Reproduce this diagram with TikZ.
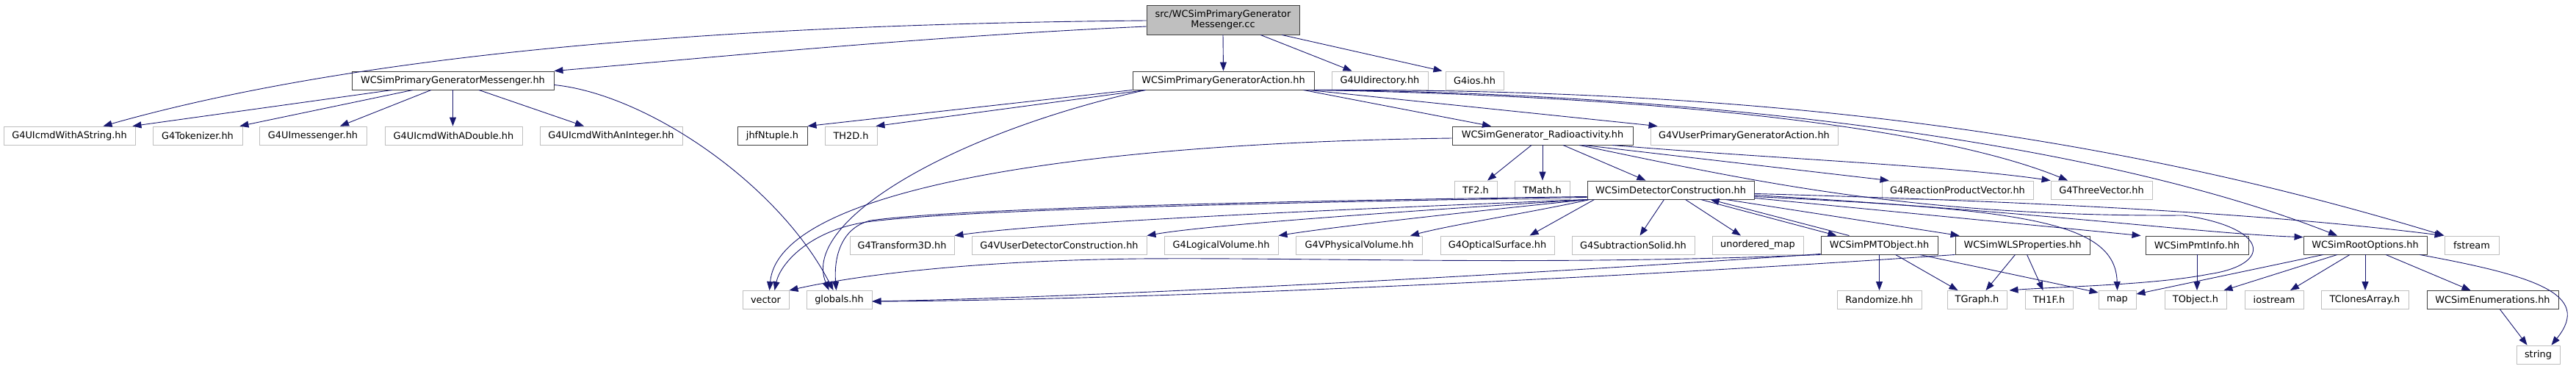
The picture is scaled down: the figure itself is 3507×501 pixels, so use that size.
\documentclass[tikz,border=0pt]{standalone}
\usepackage{fontspec}
\setmainfont{DejaVu Sans}
\usetikzlibrary{arrows.meta,calc}
\definecolor{edgec}{HTML}{191970}
\definecolor{lgray}{HTML}{BFBFBF}
\definecolor{dgray}{HTML}{404040}
\tikzset{
 box/.style={rectangle, inner sep=0pt, minimum height=25pt, font=\fontsize{12.9}{14.5}\selectfont, line width=0.9pt},
 gbox/.style={box, draw=lgray, fill=white},
 dbox/.style={box, draw=dgray, fill=white},
 rootbox/.style={box, draw=dgray, fill=lgray, minimum height=40pt, align=center},
 edge/.style={draw=edgec, line width=0.9pt, -{Triangle[length=12pt,width=9pt]}},
}
\begin{document}
\begin{tikzpicture}[x=1pt,y=-1pt]
\path[use as bounding box] (0,0) rectangle (3507,501);
% row 0
\node[rootbox, minimum width=208pt] (root) at (1665,27) {src/WCSimPrimaryGenerator\\Messenger.cc};
% row 1
\node[dbox, minimum width=275pt] (msgr) at (616.5,109.5) {WCSimPrimaryGeneratorMessenger.hh};
\node[dbox, minimum width=247pt] (action) at (1665.5,109.5) {WCSimPrimaryGeneratorAction.hh};
\node[gbox, minimum width=131pt] (uidir) at (1878.5,109.5) {G4UIdirectory.hh};
\node[gbox, minimum width=79pt] (ios) at (2007.5,109.5) {G4ios.hh};
% row 2
\node[gbox, minimum width=179pt] (astring) at (94.5,184.5) {G4UIcmdWithAString.hh};
\node[gbox, minimum width=122pt] (tokenizer) at (269,184.5) {G4Tokenizer.hh};
\node[gbox, minimum width=146pt] (uimsg) at (426,184.5) {G4UImessenger.hh};
\node[gbox, minimum width=187pt] (udouble) at (617.5,184.5) {G4UIcmdWithADouble.hh};
\node[gbox, minimum width=194pt] (uint) at (832,184.5) {G4UIcmdWithAnInteger.hh};
\node[dbox, minimum width=95pt] (jhf) at (1051.5,184.5) {jhfNtuple.h};
\node[gbox, minimum width=71pt] (th2d) at (1158.5,184.5) {TH2D.h};
\node[dbox, minimum width=246pt] (radio) at (2100,184.5) {WCSimGenerator\_Radioactivity.hh};
\node[gbox, minimum width=255pt] (upga) at (2374.5,184.5) {G4VUserPrimaryGeneratorAction.hh};
% row 3
\node[gbox, minimum width=58pt] (tf2) at (2009,258.5) {TF2.h};
\node[gbox, minimum width=75pt] (tmath) at (2099.5,258.5) {TMath.h};
\node[dbox, minimum width=227pt] (det) at (2274.5,258.5) {WCSimDetectorConstruction.hh};
\node[gbox, minimum width=206pt] (rpv) at (2665,258.5) {G4ReactionProductVector.hh};
\node[gbox, minimum width=138pt] (three) at (2861,258.5) {G4ThreeVector.hh};
% row 4
\node[gbox, minimum width=142pt] (tr3d) at (1228,333.5) {G4Transform3D.hh};
\node[gbox, minimum width=238pt] (udc) at (1442,333.5) {G4VUserDetectorConstruction.hh};
\node[gbox, minimum width=155pt] (logv) at (1662.5,333.5) {G4LogicalVolume.hh};
\node[gbox, minimum width=172pt] (physv) at (1850.5,333.5) {G4VPhysicalVolume.hh};
\node[gbox, minimum width=155pt] (optsurf) at (2038.5,333.5) {G4OpticalSurface.hh};
\node[gbox, minimum width=167pt] (subsol) at (2223.5,333.5) {G4SubtractionSolid.hh};
\node[gbox, minimum width=124pt] (umap) at (2393,333.5) {unordered\_map};
\node[dbox, minimum width=159pt] (pmt) at (2558.5,333.5) {WCSimPMTObject.hh};
\node[dbox, minimum width=183pt] (wls) at (2753.5,333.5) {WCSimWLSProperties.hh};
\node[dbox, minimum width=140pt] (pmtinfo) at (2991,333.5) {WCSimPmtInfo.hh};
\node[dbox, minimum width=168pt] (rootopt) at (3220,333.5) {WCSimRootOptions.hh};
\node[gbox, minimum width=74pt] (fstream) at (3365,333.5) {fstream};
% row 5
\node[gbox, minimum width=63pt] (vector) at (1042.5,408) {vector};
\node[gbox, minimum width=89pt] (globals) at (1142.5,408) {globals.hh};
\node[gbox, minimum width=115pt] (random) at (2558.5,408) {Randomize.hh};
\node[gbox, minimum width=81pt] (tgraph) at (2691.5,408) {TGraph.h};
\node[gbox, minimum width=65pt] (th1f) at (2789.5,408) {TH1F.h};
\node[gbox, minimum width=51pt] (map) at (2882.5,408) {map};
\node[gbox, minimum width=84pt] (tobject) at (2989,408) {TObject.h};
\node[gbox, minimum width=80pt] (iostream) at (3096,408) {iostream};
\node[gbox, minimum width=119pt] (tclones) at (3219.5,408) {TClonesArray.h};
\node[dbox, minimum width=179pt] (enums) at (3393.5,408) {WCSimEnumerations.hh};
% row 6
\node[gbox, minimum width=59pt] (string) at (3455.5,482.5) {string};

% ---- edges from root
\draw[edge] ([yshift=-9pt]root.west) .. controls (1250,50) and (950,80) .. (msgr.north east);
\draw[edge] ([yshift=-1pt]root.west) .. controls (1000,33) and (500,70) .. ([xshift=46pt]astring.north);
\draw[edge] (root.south) -- (action.north);
\draw[edge] ([xshift=51pt]root.south) -- ([xshift=-38pt]uidir.north);
\draw[edge] ([xshift=80pt]root.south) -- ([xshift=-44pt]ios.north);
% ---- messenger.hh
\draw[edge] ([xshift=-82.5pt]msgr.south) -- ([xshift=-4pt]astring.north east);
\draw[edge] ([xshift=-54.5pt]msgr.south) -- ([xshift=-4pt]tokenizer.north east);
\draw[edge] ([xshift=-29.5pt]msgr.south) -- ([xshift=37pt]uimsg.north);
\draw[edge] (msgr.south) -- (msgr.south |- udouble.north);
\draw[edge] ([xshift=35.5pt]msgr.south) -- ([xshift=-37pt]uint.north);
\draw[edge] ([yshift=-6pt]msgr.east) .. controls (880,128) and (1060,250) .. ([xshift=-8pt]globals.north);
% ---- action.hh
\draw[edge] (action.south west) -- (jhf.north east);
\draw[edge] ([xshift=18pt]action.south west) -- ([xshift=-2pt]th2d.north east);
\draw[edge] ([xshift=18pt]action.south west) .. controls (1300,180) and (1090,300) .. ([xshift=-14pt]globals.north);
\draw[edge] ([xshift=-15pt]action.south east) -- ([xshift=-70pt]radio.north);
\draw[edge] ([xshift=-8pt]action.south east) -- ([xshift=10pt]upga.north west);
\draw[edge] (action.south east) .. controls (2300,132) and (2650,178) .. ([xshift=-46pt]three.north);
\draw[edge] (action.south east) .. controls (2300,126) and (2850,190) .. ([xshift=-38pt]rootopt.north);
\draw[edge] (action.south east) .. controls (2300,121) and (2800,160) .. (fstream.north west);
% ---- radioactivity
\draw[edge] ([xshift=-15pt]radio.south) -- ([xshift=16pt]tf2.north);
\draw[edge] (radio.south) -- (radio.south |- tmath.north);
\draw[edge] ([xshift=28pt]radio.south) -- ([xshift=-34pt]det.north);
\draw[edge] ([xshift=56pt]radio.south) -- ([xshift=10pt]rpv.north west);
\draw[edge] ([xshift=95pt]radio.south) .. controls (2400,215) and (2650,225) .. (three.north west);
\draw[edge] ([xshift=50pt]radio.south) .. controls (2380,245) and (2600,295) .. (2973,293)
  .. controls (3090,310) and (3095,360) .. (3007,373)
  .. controls (2930,388) and (2800,390) .. ([xshift=3pt]tgraph.north east);
\draw[edge] ([yshift=-3.5pt]radio.west) .. controls (1450,195) and (1060,260) .. ([xshift=5pt]vector.north);
% ---- detector construction
\draw[edge] (det.south west) .. controls (1900,282) and (1450,300) .. (tr3d.north east);
\draw[edge] ([xshift=1pt]det.south west) .. controls (1950,285) and (1650,305) .. (udc.north east);
\draw[edge] ([xshift=2pt]det.south west) .. controls (2000,288) and (1820,308) .. (logv.north east);
\draw[edge] ([xshift=4pt]det.south west) .. controls (2080,290) and (1980,305) .. ([xshift=-17pt]physv.north east);
\draw[edge] ([xshift=10pt]det.south west) -- ([xshift=44pt]optsurf.north);
\draw[edge] ([xshift=-9pt]det.south) -- ([xshift=9pt]subsol.north);
\draw[edge] ([xshift=20pt]det.south) -- ([xshift=-23pt]umap.north);
\draw[edge] ([xshift=41pt]det.south) -- ([xshift=-58pt]pmt.north);
\draw[edge] ([xshift=-41pt]pmt.north) -- ([xshift=54pt]det.south);
\draw[edge] ([xshift=75pt]det.south) -- ([xshift=6pt]wls.north west);
\draw[edge] ([yshift=2pt]det.south east) -- ([xshift=-6pt]pmtinfo.north west);
\draw[edge] ([yshift=4pt]det.south east) .. controls (2750,285) and (2880,300) .. (map.north);
\draw[edge] ([yshift=6pt]det.south east) .. controls (2800,290) and (3000,318) .. ([yshift=-2pt]rootopt.north west);
\draw[edge] ([yshift=8pt]det.south east) .. controls (2800,275) and (3100,292) .. ([xshift=-1pt]fstream.north west);
\draw[edge] ([yshift=3pt]det.south west) .. controls (1700,276) and (1300,286) .. (1180,302)
  .. controls (1100,314) and (1062,360) .. ([xshift=12pt]vector.north);
\draw[edge] ([yshift=4pt]det.south west) .. controls (1700,274) and (1300,284) .. (1185,300)
  .. controls (1145,310) and (1135,350) .. ([xshift=-4pt]globals.north);
% ---- PMT object
\draw[edge] (pmt.south) -- (random.north);
\draw[edge] ([xshift=22pt]pmt.south) -- ([xshift=-26pt]tgraph.north);
\draw[edge] ([xshift=55pt]pmt.south) -- ([yshift=-3pt]map.north west);
\draw[edge] (pmt.south west) .. controls (2100,362) and (1800,350) .. (1550,352)
  .. controls (1300,355) and (1150,378) .. (vector.north east);
\draw[edge] ([yshift=1pt]pmt.south west) .. controls (2100,372) and (1500,404) .. ([yshift=-2pt]globals.east);
% ---- WLS
\draw[edge] (wls.south west) .. controls (2300,372) and (1600,408) .. ([yshift=-2pt]globals.east);
\draw[edge] ([xshift=-10pt]wls.south) -- ([xshift=12pt]tgraph.north);
\draw[edge] ([xshift=6pt]wls.south) -- ([xshift=-8pt]th1f.north);
% ---- PmtInfo
\draw[edge] (pmtinfo.south) -- (pmtinfo.south |- tobject.north);
% ---- RootOptions
\draw[edge] ([xshift=-57pt]rootopt.south) -- ([yshift=-5pt]map.north east);
\draw[edge] ([xshift=-38pt]rootopt.south) -- ([xshift=-4pt]tobject.north east);
\draw[edge] ([xshift=-21pt]rootopt.south) -- ([xshift=22pt]iostream.north);
\draw[edge] (rootopt.south) -- (rootopt.south |- tclones.north);
\draw[edge] ([xshift=28pt]rootopt.south) -- ([xshift=-30pt]enums.north);
\draw[edge] ([xshift=74pt]rootopt.south) .. controls (3450,375) and (3530,400) .. ([xshift=18pt]string.north);
% ---- Enumerations
\draw[edge] ([xshift=10pt]enums.south) -- ([xshift=-15pt]string.north);
\end{tikzpicture}
\end{document}
